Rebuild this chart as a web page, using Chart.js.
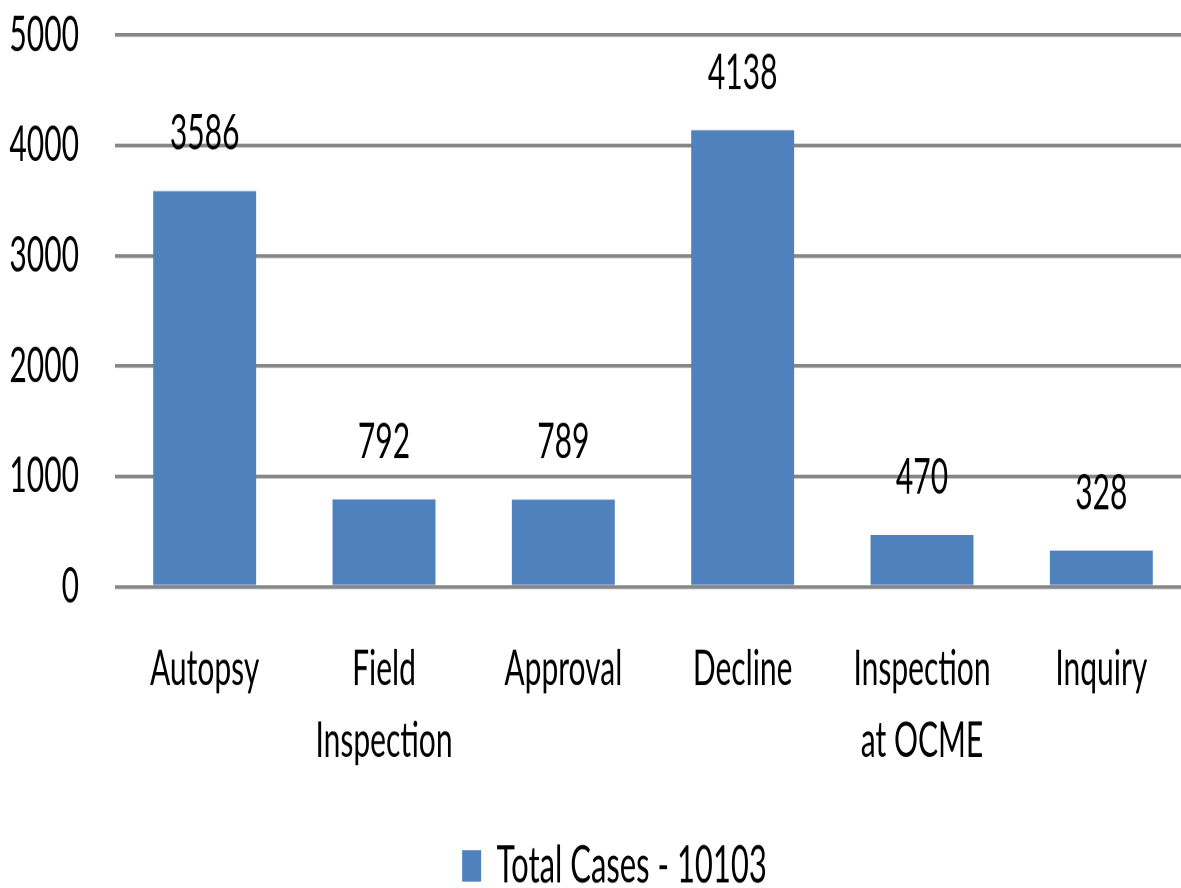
<!DOCTYPE html>
<html>
<head>
<meta charset="utf-8">
<script src="https://cdn.jsdelivr.net/npm/chart.js@4"></script>
<style>
  html, body { margin: 0; padding: 0; background: #fff; overflow: hidden; }
  #c { display: block; width: 1229px !important; height: 907.5px !important; }
</style>
</head>
<body>
<canvas id="c" width="1229" height="550"></canvas>
<script>
const categories = ['Autopsy', ['Field', 'Inspection'], 'Approval', 'Decline', ['Inspection', 'at OCME'], 'Inquiry'];
const values = [3586, 792, 789, 4138, 470, 328];
const seriesName = 'Total Cases - 10103';
const yTicks = [0, 1000, 2000, 3000, 4000, 5000];

const FONT = 'Lato';

const valueLabels = {
  id: 'valueLabels',
  afterDatasetsDraw(chart) {
    const ctx = chart.ctx;
    const meta = chart.getDatasetMeta(0);
    ctx.save();
    ctx.font = '30px ' + FONT;
    ctx.fillStyle = '#000';
    ctx.textAlign = 'center';
    ctx.textBaseline = 'alphabetic';
    meta.data.forEach((bar, i) => {
      ctx.fillText(String(values[i]), bar.x, bar.y - 25);
    });
    ctx.restore();
  }
};

new Chart(document.getElementById('c'), {
  type: 'bar',
  data: {
    labels: categories,
    datasets: [{
      label: seriesName,
      data: values,
      backgroundColor: '#4f81bd',
      borderWidth: 0,
      barPercentage: 0.574,
      categoryPercentage: 1,
      yAxisID: 'y'
    }]
  },
  options: {
    responsive: false,
    animation: false,
    devicePixelRatio: 2,
    layout: { padding: { top: 21.2, right: 0, bottom: 0, left: 0 } },
    plugins: {
      legend: {
        position: 'bottom',
        labels: {
          font: { family: FONT, size: 31 },
          color: '#000',
          boxWidth: 19,
          boxHeight: 19,
          padding: 10
        }
      },
      tooltip: { enabled: false }
    },
    scales: {
      x: {
        afterFit: (s) => { s.height = 143.6; },
        grid: { display: false, drawTicks: false },
        border: { display: false },
        ticks: {
          font: { family: FONT, size: 30, lineHeight: 1.45 },
          color: '#000',
          padding: 28,
          maxRotation: 0,
          autoSkip: false
        }
      },
      y: {
        position: 'left',
        min: 0,
        max: 5000,
        afterBuildTicks: (s) => { s.ticks = yTicks.map(v => ({ value: v })); },
        afterFit: (s) => { s.width = 115; s.paddingTop = 0; s.paddingBottom = 0; },
        grid: { color: '#868686', lineWidth: 2.2, drawTicks: false },
        border: { display: false },
        ticks: {
          font: { family: FONT, size: 30 },
          color: '#000',
          padding: 36,
          callback: (v) => String(v)
        }
      },
      yRight: {
        position: 'right',
        display: true,
        min: 0,
        max: 5000,
        afterFit: (s) => { s.width = 38; s.paddingTop = 0; s.paddingBottom = 0; },
        grid: { display: false, drawTicks: false },
        border: { display: false },
        ticks: { display: false }
      }
    }
  },
  plugins: [valueLabels]
});
</script>
</body>
</html>
